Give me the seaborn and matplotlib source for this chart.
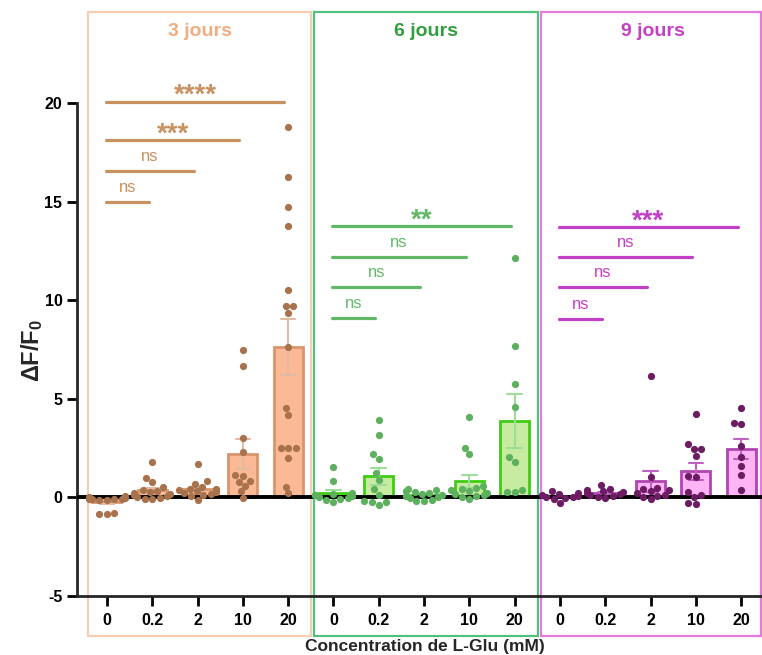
import numpy as np
import pandas as pd
import seaborn as sns
import matplotlib.pyplot as plt
from matplotlib.patches import Rectangle

# concentrations (mM) and time points
concentrations = ['0', '0.2', '2', '10', '20']
days = ['3 jours', '6 jours', '9 jours']

# dF/F0 values, one list per condition
j3_c0 = [-0.05, -0.1, 0.0, -0.1, -0.15, -0.05, 0.05, -0.1, -0.1, 0.0, -0.15, -0.85, -0.8, -0.85]
j3_c02 = [1.8, 1.0, 0.8, 0.55, 0.35, 0.3, 0.25, 0.2, 0.15, 0.1, 0.05, 0.0, -0.05, -0.1, -0.1]
j3_c2 = [1.7, 0.85, 0.7, 0.55, 0.45, 0.4, 0.35, 0.3, 0.25, 0.2, 0.15, 0.1, 0.05, -0.15]
j3_c10 = [7.45, 6.65, 3.0, 2.3, 1.15, 1.1, 0.8, 0.85, 0.6, 0.3, -0.05]
j3_c20 = [18.8, 16.25, 14.7, 13.75, 10.5, 9.7, 9.7, 9.35, 7.65, 4.55, 4.2, 2.5, 2.5, 2.5,
          2.0, 0.55, 0.2]

j6_c0 = [1.55, 0.85, 0.2, 0.15, 0.1, 0.1, 0.05, 0.0, -0.05, -0.1, -0.15, -0.25]
j6_c02 = [3.9, 3.15, 2.2, 1.95, 1.25, 0.9, 0.4, 0.1, -0.2, -0.25, -0.25, -0.4]
j6_c2 = [0.45, 0.35, 0.3, 0.25, 0.2, 0.15, 0.1, 0.05, 0.0, -0.05, -0.15, -0.2, -0.2]
j6_c10 = [4.1, 2.5, 2.2, 0.6, 0.5, 0.4, 0.35, 0.3, 0.2, 0.15, 0.1, 0.05, 0.0, -0.1]
j6_c20 = [12.15, 7.7, 5.75, 4.6, 2.05, 1.8, 0.35, 0.25, 0.25]

j9_c0 = [0.3, 0.2, 0.15, 0.1, 0.05, 0.0, 0.0, -0.05, -0.1, -0.3]
j9_c02 = [0.65, 0.45, 0.35, 0.3, 0.25, 0.2, 0.15, 0.1, 0.05, 0.0, -0.05]
j9_c2 = [6.15, 1.05, 0.5, 0.4, 0.35, 0.3, 0.2, 0.1, 0.05, 0.0, -0.1]
j9_c10 = [4.25, 2.7, 2.45, 2.45, 2.1, 1.1, 1.05, 0.25, 0.1, 0.0, -0.3, -0.35]
j9_c20 = [4.55, 3.75, 3.7, 2.6, 2.05, 1.6, 1.15, 0.35]

all_values = [
    [j3_c0, j3_c02, j3_c2, j3_c10, j3_c20],
    [j6_c0, j6_c02, j6_c2, j6_c10, j6_c20],
    [j9_c0, j9_c02, j9_c2, j9_c10, j9_c20],
]

# statistics (comparison vs 0 mM)
sig_pairs = [(0, 1), (0, 2), (0, 3), (0, 4)]
sig_labels = [['ns', 'ns', '***', '****'],
              ['ns', 'ns', 'ns', '**'],
              ['ns', 'ns', 'ns', '***']]
sig_heights = [[15.0, 16.55, 18.1, 20.05],
               [9.1, 10.65, 12.2, 13.75],
               [9.05, 10.65, 12.2, 13.7]]

# colours per time point
title_colors = ['#f0ad80', '#2f9e3c', '#c63dc6']
box_colors = ['#f7cdb4', '#52c07e', '#e57ae0']
point_colors = ['#a8724c', '#5cb05e', '#6c1c62']
bar_fill = ['#fbb995', '#c8eba2', '#ffb4f6']
bar_edge = ['#d9956c', '#3fcc14', '#b044b0']
err_colors = ['#e3bba2', '#9edc9a', '#c060c0']
sig_colors = ['#c8915f', '#62b866', '#c23fc8']

rows = []
for d, day in enumerate(days):
    for c, conc in enumerate(concentrations):
        for v in all_values[d][c]:
            rows.append({'day': day, 'cond': day + '|' + conc, 'val': v})
df = pd.DataFrame(rows)
order = [day + '|' + conc for day in days for conc in concentrations]

sns.set_style('ticks')
plt.rcParams['font.family'] = ['Liberation Sans', 'DejaVu Sans']
plt.rcParams['mathtext.fontset'] = 'custom'
plt.rcParams['mathtext.bf'] = 'Liberation Sans:bold'
plt.rcParams['mathtext.rm'] = 'Liberation Sans'
plt.rcParams['axes.unicode_minus'] = False

fig = plt.figure(figsize=(7.62, 6.55), dpi=100)
ax = fig.add_axes([77 / 762, 59 / 655, 685 / 762, 570 / 655])

for d, day in enumerate(days):
    sub = df[df['day'] == day]
    sns.barplot(data=sub, x='cond', y='val', order=order, errorbar='se',
                width=0.64, color=bar_fill[d], saturation=1,
                edgecolor=bar_edge[d], linewidth=2, capsize=0.32,
                err_kws={'color': err_colors[d], 'linewidth': 1.5}, ax=ax)
    sns.swarmplot(data=sub, x='cond', y='val', order=order, color=point_colors[d],
                  size=5.2, ax=ax, zorder=4)

ax.axhline(0, color='black', lw=2.8, zorder=3.5)

for d, day in enumerate(days):
    off = d * 5
    ax.add_patch(Rectangle((off - 0.42, -7.05), 4.93 if d < 2 else 4.85, 31.65,
                           fill=False, edgecolor=box_colors[d], lw=1.6,
                           clip_on=False, zorder=0.5))
    ax.text(off + 2.05, 23.6, day, color=title_colors[d], fontsize=14,
            fontweight='bold', ha='center', va='center')
    for (a, b), lab, h in zip(sig_pairs, sig_labels[d], sig_heights[d]):
        ax.plot([off + a - 0.03, off + b - 0.08], [h, h], color=sig_colors[d],
                lw=2.3, solid_capstyle='round', zorder=3)
        xm = off + (a + b) / 2 - 0.05
        if lab == 'ns':
            ax.text(xm, h + 0.5, lab, color=sig_colors[d], fontsize=12,
                    ha='center', va='baseline')
        else:
            ax.text(xm, h - 0.05, lab, color=sig_colors[d], fontsize=20,
                    fontweight='bold', ha='center', va='baseline')

ax.set_xlim(-0.66, 14.46)
ax.set_ylim(-5, 23.9)
ax.set_yticks([-5, 0, 5, 10, 15, 20])
ax.set_xticks(range(15))
ax.set_xticklabels(concentrations * 3)
ax.set_xlabel('')
ax.set_ylabel(r'$\mathbf{\Delta F/F_0}$', fontsize=17)
ax.yaxis.set_label_coords(-0.047, 0.43)

for lab in ax.get_xticklabels() + ax.get_yticklabels():
    lab.set_fontweight('bold')
    lab.set_fontsize(11.5)
ax.tick_params(axis='x', length=7.5, width=2, pad=4.5, colors='black')
ax.tick_params(axis='y', length=7.5, width=2, pad=3, colors='black')

sns.despine(ax=ax, top=True, right=True)
ax.spines['left'].set_bounds(-5, 20)
ax.spines['left'].set_linewidth(2)
ax.spines['bottom'].set_linewidth(2)

fig.text(425 / 762, 1 - 646 / 655, 'Concentration de L-Glu (mM)', fontsize=12.5,
         fontweight='bold', ha='center', va='center')

fig.savefig('out.png', dpi=100)
